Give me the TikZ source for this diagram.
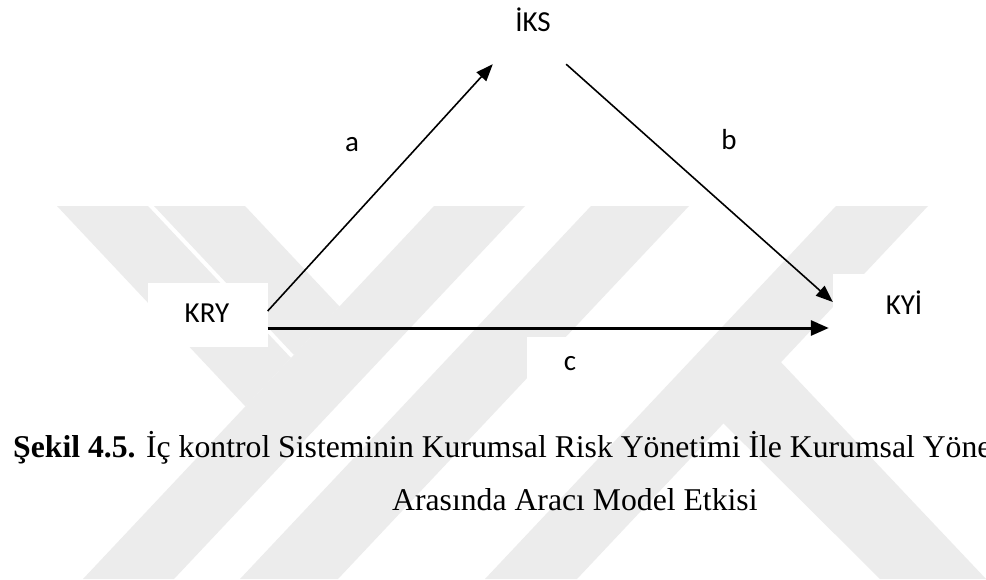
\documentclass[tikz,border=0pt]{standalone}
\usepackage{fontspec}
\setmainfont{Liberation Serif}
\newfontfamily\labelfont{Carlito}
\usetikzlibrary{arrows.meta}
\definecolor{wmgray}{RGB}{236,236,236}
\begin{document}
\begin{tikzpicture}[x=1pt,y=-1pt,
  lbl/.style={font=\labelfont\fontsize{29}{34}\selectfont, inner sep=0pt},
  capfont/.style={font=\fontsize{31.7}{38}\selectfont, inner sep=0pt},
  whitebox/.style={fill=white, draw=none, inner sep=0pt},
  hollowbox/.style={draw=none, inner sep=0pt},
  thinarrow/.style={line width=1.6pt, -{Triangle[length=17pt,width=13pt]}},
  thickarrow/.style={line width=3pt, -{Triangle[length=18pt,width=15pt]}},
  band/.style={fill=wmgray, draw=none}]
\fill[white] (0,0) rectangle (986,579);
\useasboundingbox (0,0) rectangle (986,579);

% light background emblem made of diagonal bands
\begin{scope}
  \clip (0,206) rectangle (986,579);
  \fill[band] (434,206) -- (525,206) -- (174,579) -- (83,579) -- cycle;
  \fill[band] (591,206) -- (689,206) -- (338,579) -- (240,579) -- cycle;
  \fill[band] (836,206) -- (928,206) -- (577,579) -- (485,579) -- cycle;
  \fill[band] (57,206) -- (148,206) -- (291,358) -- (245.5,406.5) -- cycle;
  \fill[band] (154,206) -- (245,206) -- (339.5,306.5) -- (294,355) -- cycle;
  \fill[band] (700,400) -- (760,340) -- (986,579) -- (880,579) -- cycle;
\end{scope}

% boxes behind the labels
\node[whitebox, minimum width=120pt, minimum height=64pt] (kry) at (207.5,315) {};
\node[whitebox, minimum width=120pt, minimum height=64pt] (kyi) at (893,306) {};
\node[whitebox, minimum width=75pt, minimum height=50pt] (cbox) at (564.5,362) {};
\node[hollowbox, minimum width=73pt, minimum height=64pt] (iks) at (529.5,32) {};

% labels
\node[lbl] (krytext) at (207,313) {KRY};
\node[lbl] (kyitext) at (904,303) {KYİ};
\node[lbl] (ikstext) at (533,20) {İKS};
\node[lbl] (alabel) at (352,145) {a};
\node[lbl] (blabel) at (729,140) {b};
\node[lbl] (clabel) at (570,364) {c};

% paths
\draw[thinarrow] ([yshift=4pt]kry.east) -- (iks.south west);
\draw[thinarrow] (iks.south east) -- ([yshift=4pt]kyi.west);
\draw[thickarrow] ([yshift=-13pt]kry.east) -- ([yshift=-22pt,xshift=-4pt]kyi.west);

% caption
\node[capfont, anchor=base west] (cap1) at (13,457)
  {\textbf{Şekil 4.5.} İç kontrol Sisteminin Kurumsal Risk Yönetimi İle Kurumsal Yöne};
\node[capfont, anchor=base west] (cap2) at (392,510)
  {Arasında Aracı Model Etkisi};
\end{tikzpicture}
\end{document}
